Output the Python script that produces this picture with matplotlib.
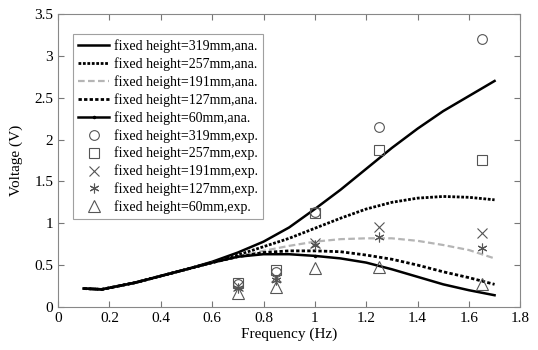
import matplotlib
matplotlib.use("Agg")
import matplotlib.pyplot as plt

plt.rcParams['font.family'] = ['Liberation Serif', 'DejaVu Serif']

# analytical curves
freq = [0.1, 0.17, 0.3, 0.4, 0.5, 0.6, 0.7, 0.8, 0.9, 1.0, 1.1, 1.2, 1.3, 1.4, 1.5, 1.6, 1.7]
ana_319 = [0.22, 0.21, 0.29, 0.37, 0.45, 0.54, 0.65, 0.78, 0.95, 1.17, 1.40, 1.65, 1.90, 2.13, 2.34, 2.52, 2.70]
ana_257 = [0.22, 0.21, 0.29, 0.37, 0.45, 0.53, 0.62, 0.72, 0.82, 0.94, 1.06, 1.17, 1.25, 1.30, 1.32, 1.31, 1.28]
ana_191 = [0.22, 0.21, 0.29, 0.37, 0.45, 0.53, 0.60, 0.67, 0.73, 0.78, 0.81, 0.82, 0.82, 0.79, 0.74, 0.68, 0.58]
ana_127 = [0.22, 0.21, 0.29, 0.37, 0.45, 0.53, 0.60, 0.65, 0.67, 0.67, 0.66, 0.62, 0.57, 0.50, 0.42, 0.35, 0.27]
ana_60 = [0.22, 0.21, 0.29, 0.37, 0.45, 0.53, 0.60, 0.63, 0.63, 0.61, 0.58, 0.53, 0.45, 0.36, 0.27, 0.20, 0.14]

# experiments
freq_exp = [0.7, 0.85, 1.0, 1.25, 1.65]
exp_319 = [0.27, 0.42, 1.14, 2.15, 3.20]
exp_257 = [0.29, 0.44, 1.12, 1.87, 1.75]
exp_191 = [0.25, 0.36, 0.76, 0.95, 0.88]
exp_127 = [0.23, 0.32, 0.74, 0.84, 0.70]
exp_60 = [0.17, 0.24, 0.47, 0.48, 0.27]

fig = plt.figure(figsize=(5.38, 3.5), dpi=100)
ax = fig.add_axes([0.108, 0.123, 0.859, 0.837])

ax.plot(freq, ana_319, color='black', lw=1.8, label='fixed height=319mm,ana.')
ax.plot(freq, ana_257, color='black', lw=2.0, ls=(0, (1, 0.6)), label='fixed height=257mm,ana.')
ax.plot(freq, ana_191, color='#b5b5b5', lw=1.6, ls=(0, (3, 1.5)), label='fixed height=191mm,ana.')
ax.plot(freq, ana_127, color='black', lw=2.0, ls=(0, (1.2, 0.8)), label='fixed height=127mm,ana.')
ax.plot(freq, ana_60, color='black', lw=1.8, marker='.', markersize=3, markevery=[9],
        label='fixed height=60mm,ana.')

mk = dict(ls='none', color='#555555', markersize=7, markerfacecolor='none', markeredgewidth=0.8)
ax.plot(freq_exp, exp_319, marker='o', label='fixed height=319mm,exp.', **mk)
ax.plot(freq_exp, exp_257, marker='s', label='fixed height=257mm,exp.', **mk)
ax.plot(freq_exp, exp_191, marker='x', label='fixed height=191mm,exp.', **mk)
ax.plot(freq_exp, exp_127, marker=(6, 2, 0), label='fixed height=127mm,exp.', **mk)
ax.plot(freq_exp, exp_60, marker='^', label='fixed height=60mm,exp.', **{**mk, 'markersize': 9})

ax.set_xlim(0, 1.8)
ax.set_ylim(0, 3.5)
ax.set_xticks([0, 0.2, 0.4, 0.6, 0.8, 1, 1.2, 1.4, 1.6, 1.8])
ax.set_xticklabels(['0', '0.2', '0.4', '0.6', '0.8', '1', '1.2', '1.4', '1.6', '1.8'])
ax.set_yticks([0, 0.5, 1, 1.5, 2, 2.5, 3, 3.5])
ax.set_yticklabels(['0', '0.5', '1', '1.5', '2', '2.5', '3', '3.5'])
ax.tick_params(direction='in', length=4, labelsize=11, top=True, right=True, color='#777777')
for s in ax.spines.values():
    s.set_color('#888888')
ax.set_xlabel('Frequency (Hz)', fontsize=11, labelpad=2)
ax.set_ylabel('Voltage (V)', fontsize=11, labelpad=8)

leg = ax.legend(loc='upper left', fontsize=10, frameon=True, fancybox=False,
                edgecolor='#888888', labelspacing=0.3, handlelength=2.2,
                handletextpad=0.4, borderpad=0.35, bbox_to_anchor=(0.018, 0.955))
leg.get_frame().set_linewidth(0.8)

fig.savefig('out.png', dpi=100)
